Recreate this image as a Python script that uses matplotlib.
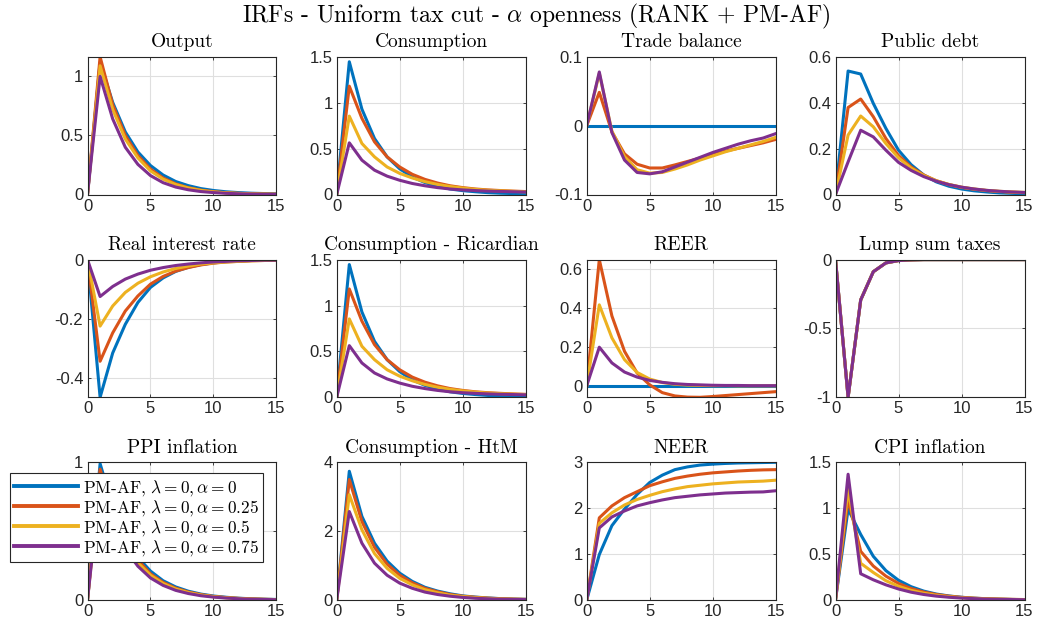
import numpy as np
import matplotlib.pyplot as plt

plt.rcParams['font.family'] = ['Liberation Sans', 'DejaVu Sans']
plt.rcParams['mathtext.fontset'] = 'cm'
plt.rcParams['axes.unicode_minus'] = False

TITLE_FONT = 'cmr10'
COLORS = ['#0072BD', '#D95319', '#EDB120', '#7E2F8E']

horizon = np.arange(16)
alphas = ['0', '0.25', '0.5', '0.75']
labels = [r'PM-AF, $\lambda = 0, \alpha = %s$' % a for a in alphas]

panel_titles = ['Output', 'Consumption', 'Trade balance', 'Public debt',
                'Real interest rate', 'Consumption - Ricardian', 'REER', 'Lump sum taxes',
                'PPI inflation', 'Consumption - HtM', 'NEER', 'CPI inflation']

# IRFs, one list per alpha: [alpha=0, alpha=0.25, alpha=0.5, alpha=0.75]
output = [
    [0, 1.12, 0.78, 0.53, 0.36, 0.245, 0.165, 0.11, 0.075, 0.05, 0.034, 0.023, 0.016, 0.011, 0.008, 0.006],
    [0, 1.166, 0.76, 0.50, 0.33, 0.215, 0.14, 0.09, 0.058, 0.037, 0.024, 0.015, 0.01, 0.006, 0.004, 0.003],
    [0, 1.09, 0.72, 0.47, 0.31, 0.20, 0.13, 0.085, 0.055, 0.035, 0.022, 0.014, 0.009, 0.006, 0.004, 0.002],
    [0, 1.0, 0.64, 0.40, 0.255, 0.16, 0.10, 0.063, 0.04, 0.025, 0.016, 0.01, 0.006, 0.004, 0.002, 0.001],
]
consumption = [
    [0, 1.446, 0.93, 0.61, 0.41, 0.28, 0.19, 0.13, 0.09, 0.06, 0.042, 0.03, 0.02, 0.014, 0.01, 0.007],
    [0, 1.18, 0.83, 0.574, 0.41, 0.30, 0.22, 0.165, 0.125, 0.095, 0.075, 0.06, 0.05, 0.043, 0.037, 0.032],
    [0, 0.854, 0.556, 0.41, 0.30, 0.23, 0.18, 0.14, 0.11, 0.087, 0.07, 0.056, 0.046, 0.04, 0.034, 0.03],
    [0, 0.563, 0.374, 0.265, 0.20, 0.155, 0.12, 0.095, 0.075, 0.06, 0.05, 0.043, 0.037, 0.033, 0.03, 0.027],
]
trade_balance = [
    [0] * 16,
    [0, 0.0484, -0.009, -0.041, -0.056, -0.0615, -0.0615, -0.057, -0.052, -0.047, -0.042, -0.037, -0.033, -0.029, -0.025, -0.020],
    [0, 0.076, -0.008, -0.045, -0.064, -0.069, -0.068, -0.063, -0.057, -0.050, -0.044, -0.038, -0.033, -0.028, -0.023, -0.017],
    [0, 0.078, -0.010, -0.050, -0.068, -0.070, -0.067, -0.060, -0.053, -0.046, -0.039, -0.033, -0.027, -0.022, -0.018, -0.0116],
]
public_debt = [
    [0, 0.538, 0.525, 0.397, 0.288, 0.193, 0.13, 0.085, 0.055, 0.036, 0.024, 0.016, 0.011, 0.007, 0.005, 0.003],
    [0, 0.379, 0.416, 0.339, 0.244, 0.17, 0.12, 0.085, 0.06, 0.043, 0.031, 0.023, 0.017, 0.013, 0.01, 0.008],
    [0, 0.259, 0.342, 0.295, 0.222, 0.16, 0.115, 0.083, 0.06, 0.044, 0.032, 0.024, 0.018, 0.014, 0.011, 0.009],
    [0, 0.142, 0.28, 0.251, 0.193, 0.14, 0.105, 0.078, 0.058, 0.043, 0.032, 0.024, 0.018, 0.014, 0.011, 0.009],
]
real_rate = [
    [0, -0.466, -0.316, -0.219, -0.145, -0.094, -0.062, -0.04, -0.026, -0.017, -0.011, -0.007, -0.005, -0.003, -0.002, -0.001],
    [0, -0.344, -0.248, -0.174, -0.123, -0.083, -0.057, -0.039, -0.027, -0.018, -0.012, -0.008, -0.006, -0.004, -0.003, -0.002],
    [0, -0.225, -0.157, -0.111, -0.08, -0.058, -0.042, -0.03, -0.022, -0.015, -0.011, -0.008, -0.006, -0.004, -0.003, -0.002],
    [0, -0.125, -0.091, -0.066, -0.049, -0.036, -0.027, -0.02, -0.015, -0.011, -0.008, -0.006, -0.004, -0.003, -0.002, -0.002],
]
cons_ricardian = [
    [0, 1.446, 0.93, 0.61, 0.41, 0.28, 0.19, 0.13, 0.09, 0.06, 0.042, 0.03, 0.02, 0.014, 0.01, 0.007],
    [0, 1.18, 0.83, 0.574, 0.41, 0.30, 0.22, 0.165, 0.125, 0.095, 0.075, 0.06, 0.05, 0.043, 0.037, 0.032],
    [0, 0.854, 0.556, 0.41, 0.30, 0.23, 0.18, 0.14, 0.11, 0.087, 0.07, 0.056, 0.046, 0.04, 0.034, 0.03],
    [0, 0.563, 0.374, 0.265, 0.20, 0.155, 0.12, 0.095, 0.075, 0.06, 0.05, 0.043, 0.037, 0.033, 0.03, 0.027],
]
reer = [
    [0] * 16,
    [0, 0.65, 0.36, 0.178, 0.066, 0.005, -0.035, -0.052, -0.058, -0.059, -0.055, -0.05, -0.045, -0.04, -0.035, -0.03],
    [0, 0.417, 0.247, 0.135, 0.069, 0.035, 0.017, 0.008, 0.004, 0.002, 0.001, 0.001, 0, 0, 0, 0],
    [0, 0.199, 0.118, 0.071, 0.045, 0.028, 0.018, 0.011, 0.007, 0.005, 0.003, 0.002, 0.002, 0.001, 0.001, 0.001],
]
lump_sum = [
    [0, -1.0, -0.293, -0.088, -0.024, -0.007, -0.002, 0, 0, 0, 0, 0, 0, 0, 0, 0],
] * 4
ppi = [
    [0, 0.99, 0.68, 0.46, 0.31, 0.21, 0.14, 0.095, 0.064, 0.043, 0.029, 0.02, 0.013, 0.009, 0.006, 0.004],
    [0, 0.95, 0.64, 0.43, 0.29, 0.19, 0.128, 0.086, 0.058, 0.039, 0.026, 0.018, 0.012, 0.008, 0.005, 0.003],
    [0, 0.90, 0.60, 0.40, 0.27, 0.18, 0.12, 0.08, 0.054, 0.036, 0.024, 0.016, 0.011, 0.007, 0.005, 0.003],
    [0, 0.85, 0.56, 0.37, 0.245, 0.16, 0.106, 0.07, 0.047, 0.031, 0.021, 0.014, 0.009, 0.006, 0.004, 0.002],
]
cons_htm = [
    [0, 3.74, 2.43, 1.65, 1.13, 0.78, 0.54, 0.37, 0.26, 0.18, 0.12, 0.085, 0.06, 0.04, 0.028, 0.02],
    [0, 3.50, 2.28, 1.53, 1.04, 0.72, 0.50, 0.34, 0.24, 0.16, 0.11, 0.08, 0.055, 0.038, 0.026, 0.018],
    [0, 3.06, 2.04, 1.35, 0.92, 0.63, 0.44, 0.30, 0.21, 0.14, 0.10, 0.07, 0.048, 0.033, 0.023, 0.016],
    [0, 2.57, 1.65, 1.07, 0.72, 0.49, 0.34, 0.23, 0.16, 0.11, 0.075, 0.05, 0.035, 0.025, 0.017, 0.012],
]
neer = [
    [0, 0.99, 1.62, 1.98, 2.30, 2.56, 2.72, 2.84, 2.90, 2.94, 2.96, 2.975, 2.985, 2.99, 2.995, 3.0],
    [0, 1.79, 2.05, 2.23, 2.36, 2.49, 2.575, 2.65, 2.70, 2.74, 2.77, 2.79, 2.81, 2.825, 2.835, 2.84],
    [0, 1.67, 1.90, 2.07, 2.19, 2.28, 2.36, 2.42, 2.47, 2.50, 2.53, 2.55, 2.57, 2.58, 2.59, 2.61],
    [0, 1.57, 1.81, 1.94, 2.05, 2.12, 2.18, 2.23, 2.26, 2.29, 2.31, 2.33, 2.34, 2.35, 2.355, 2.38],
]
cpi = [
    [0, 0.99, 0.714, 0.476, 0.32, 0.215, 0.145, 0.097, 0.065, 0.044, 0.03, 0.02, 0.013, 0.009, 0.006, 0.004],
    [0, 1.10, 0.53, 0.37, 0.26, 0.18, 0.125, 0.087, 0.06, 0.042, 0.029, 0.02, 0.014, 0.01, 0.007, 0.005],
    [0, 1.21, 0.40, 0.30, 0.21, 0.15, 0.105, 0.074, 0.052, 0.036, 0.025, 0.018, 0.012, 0.009, 0.006, 0.004],
    [0, 1.37, 0.286, 0.22, 0.165, 0.12, 0.085, 0.06, 0.042, 0.03, 0.021, 0.015, 0.01, 0.007, 0.005, 0.003],
]

panels = [output, consumption, trade_balance, public_debt,
          real_rate, cons_ricardian, reer, lump_sum,
          ppi, cons_htm, neer, cpi]

y_limits = [(0, 1.166), (0, 1.5), (-0.1, 0.1), (0, 0.6),
            (-0.466, 0), (0, 1.5), (-0.059, 0.65), (-1, 0),
            (0, 0.99), (0, 4), (0, 3), (0, 1.5)]
y_ticks = [[0, 0.5, 1], [0, 0.5, 1, 1.5], [-0.1, 0, 0.1], [0, 0.2, 0.4, 0.6],
           [-0.4, -0.2, 0], [0, 0.5, 1, 1.5], [0, 0.2, 0.4, 0.6], [-1, -0.5, 0],
           [0, 0.5, 1], [0, 2, 4], [0, 1, 2, 3], [0, 0.5, 1, 1.5]]

W, H = 1041, 632
fig = plt.figure(figsize=(W / 100, H / 100), dpi=100)

col_left = [87.5, 336.7, 586.7, 835.5]
row_bottom = [194.5, 397.3, 600.0]
ax_w, ax_h = 189.0, 137.7

axes = []
for i, (title, series) in enumerate(zip(panel_titles, panels)):
    r, c = divmod(i, 4)
    ax = fig.add_axes([col_left[c] / W, 1 - row_bottom[r] / H, ax_w / W, ax_h / H])
    for k, vals in enumerate(series):
        ax.plot(horizon, vals, color=COLORS[k], lw=2.2, label=labels[k])
    ax.set_xlim(0, 15)
    ax.set_ylim(*y_limits[i])
    ax.set_xticks([0, 5, 10, 15])
    ax.set_yticks(y_ticks[i])
    ax.set_xticklabels(['%g' % v for v in [0, 5, 10, 15]])
    ax.set_yticklabels(['%g' % v for v in y_ticks[i]])
    ax.grid(True, color='#dfdfdf', lw=0.8)
    ax.set_axisbelow(True)
    ax.tick_params(direction='in', length=2.5, width=0.6, top=True, right=True,
                   labelsize=12, colors='#262626', pad=3)
    for sp in ax.spines.values():
        sp.set_color('#262626')
        sp.set_linewidth(0.8)
    ax.set_title(title, fontfamily=TITLE_FONT, fontsize=14, pad=7)
    axes.append(ax)

fig.suptitle(r'IRFs - Uniform tax cut - $\alpha$ openness (RANK + PM-AF)',
             fontfamily=TITLE_FONT, fontsize=17, x=0.5154, y=0.997, va='top')

leg = axes[8].legend(loc='upper left', bbox_to_anchor=(10 / W, 1 - 473.3 / H),
                     bbox_transform=fig.transFigure, borderaxespad=0,
                     prop={'family': TITLE_FONT, 'size': 12.4}, handlelength=3.7,
                     labelspacing=0.0, handletextpad=0.3, borderpad=0.25,
                     fancybox=False, framealpha=1, edgecolor='#262626')
leg.get_frame().set_linewidth(0.8)
for line in leg.get_lines():
    line.set_linewidth(2.8)

fig.savefig('out.png', dpi=100)
